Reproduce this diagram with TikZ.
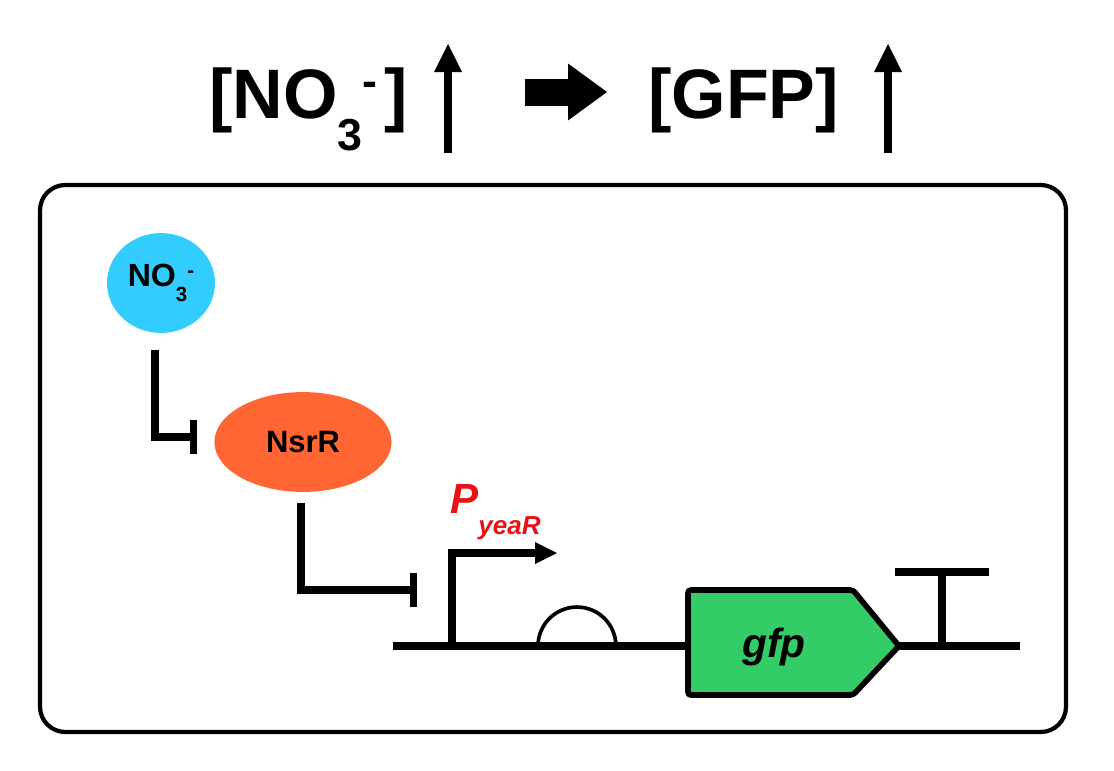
\documentclass[tikz,border=0pt]{standalone}
\usepackage{fontspec}
\setmainfont{Liberation Sans}
\usepackage{graphicx}
\usepackage{tikz}
\usetikzlibrary{positioning,arrows.meta,shapes.geometric,calc}
\definecolor{nitrate}{RGB}{51,204,255}
\definecolor{repressor}{RGB}{255,102,51}
\definecolor{reporter}{RGB}{51,204,102}
\definecolor{promoter}{RGB}{232,18,22}
\newcommand{\NOthree}{NO\raisebox{-0.46em}{\scalebox{0.64}{3}}\raisebox{0.3em}{\scalebox{0.64}{-}}}

\begin{document}
\begin{tikzpicture}[
  x=0.025cm, y=-0.025cm,
  every node/.style={font=\bfseries, inner sep=0pt},
  species/.style={ellipse, minimum width=#1, minimum height=71pt},
  inhibit/.style={line width=5pt, -{Bar[width=24pt]}},
  dna/.style={line width=5pt},
  rise/.style={line width=5pt, -{Triangle[length=20pt, width=20pt, line width=0pt]}},
  title/.style={font=\bfseries\fontsize{49.8}{60}\selectfont, anchor=base west}
]
\useasboundingbox (0,0) rectangle (1114,771);

% --- Headline: more nitrate gives more GFP ---
\node[title] (more) at (209,118) {[\NOthree\kern5pt]};
\draw[rise] (448,153) -- (448,44);
\draw[line width=19.2pt, -{Triangle[length=27.7pt, width=40.5pt, line width=0pt]}]
  (525,92) -- (607,92);
\node[title] (glow) at (648,118) {[GFP]};
\draw[rise] (888,153) -- (888,44);

% --- The cell ---
\draw[line width=3pt, rounded corners=18pt] (40,185) rectangle (1066,732);

% --- Regulators ---
\node[species=76.8pt, fill=nitrate, font=\bfseries\fontsize{22.8}{26}\selectfont] (no3) at (161,283) {\NOthree};
\node[species=126pt, fill=repressor, font=\bfseries\fontsize{22}{26}\selectfont] (nsrr) at (303,442) {NsrR};

% --- Circuit on the DNA ---
\coordinate (prom) at (452,646);
\coordinate (block) at ($(prom)+(-35,-56)$);
\draw[dna] (393,646) -- (1020,646);
\draw[dna, -{Triangle[length=15.6pt, width=15.6pt, line width=0pt]}]
  (prom) |- (557,553);
\node[anchor=base west, text=promoter, font=\bfseries\itshape\fontsize{30}{34}\selectfont] (pyear) at (450,513)
  {P\raisebox{-15.6pt}{\fontsize{18.5}{20}\selectfont yeaR}};
\draw[line width=2.6pt] (538,646) arc[start angle=180, end angle=0, radius=27.7pt];
\draw[line width=4pt, line join=round, rounded corners=2pt, fill=reporter]
  (688,590) -- (853,590) -- (899,646) -- (853,695) -- (688,695) -- cycle;
\node[anchor=base, font=\bfseries\itshape\fontsize{29}{32}\selectfont] (gfp) at (774,657) {gfp};
\draw[dna] (942,646) -- (942,572);
\draw[dna] (895,572) -- (989,572);

% --- Repression ---
\draw[inhibit] ($(no3.south)+(-6,17)$) |- ($(nsrr.west)+(-17,-5)$);
\draw[inhibit] ($(nsrr.south)+(-2,11)$) |- (block);

\end{tikzpicture}
\end{document}
